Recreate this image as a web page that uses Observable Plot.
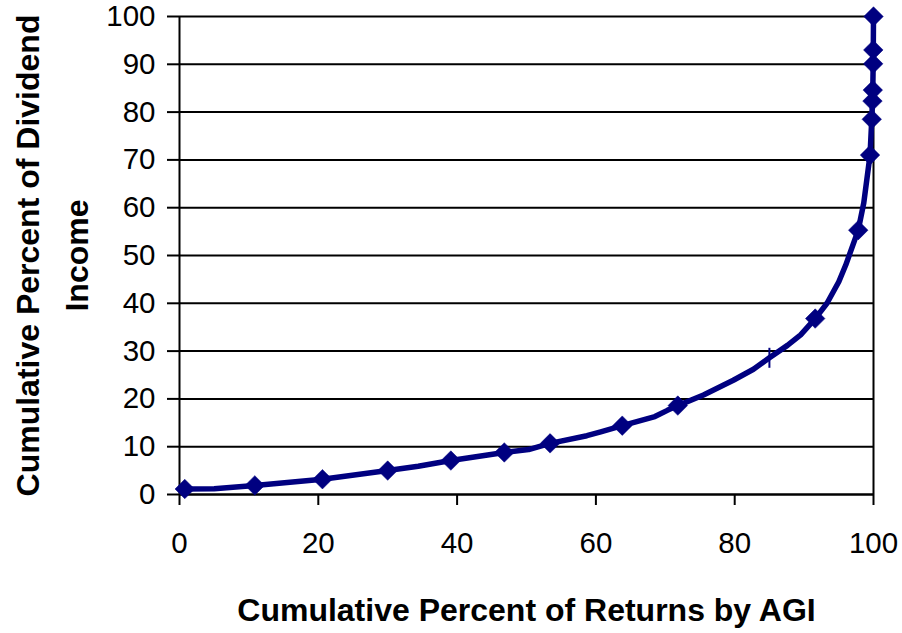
<!DOCTYPE html>
<html>
<head>
<meta charset="utf-8">
<script src="https://cdn.jsdelivr.net/npm/d3@7"></script>
<script src="https://cdn.jsdelivr.net/npm/@observablehq/plot@0.6"></script>
<style>
  html, body { margin: 0; padding: 0; background: #fff; }
  #chart { width: 902px; height: 633px; }
</style>
</head>
<body>
<div id="chart"></div>
<script>
// Cumulative percent of returns by AGI (x) and cumulative percent of dividend income (y)
const pctReturns  = [0.76, 5, 10.85, 20.6, 30, 34.4, 39.1, 46.8, 50.3, 53.4, 58.7, 60.7, 63.8, 68.5, 70.3, 71.8, 75.5, 79.8, 82.7, 85, 87.6, 89.5, 91.6, 93.3, 95, 96, 97.8, 98.6, 99.5, 99.75, 99.85, 99.9, 99.95, 99.97, 100];
const pctDividend = [1.15, 1.2, 1.9, 3.2, 5.0, 5.9, 7.1, 8.8, 9.4, 10.7, 12.3, 13.1, 14.4, 16.3, 17.6, 18.6, 20.8, 23.9, 26.2, 28.6, 31.2, 33.4, 36.8, 40, 44.5, 48, 55.3, 61, 71, 78.5, 82.3, 84.6, 90.1, 93, 100];
const markerKind  = ["diamond", "none", "diamond", "diamond", "diamond", "none", "diamond", "diamond", "none", "diamond", "none", "none", "diamond", "none", "none", "diamond", "none", "none", "none", "bar", "none", "none", "diamond", "none", "none", "none", "diamond", "none", "diamond", "diamond", "diamond", "diamond", "diamond", "diamond", "diamond"];

const xTicks = [0, 20, 40, 60, 80, 100];
const yTicks = [0, 10, 20, 30, 40, 50, 60, 70, 80, 90, 100];
const xTitle = "Cumulative Percent of Returns by AGI";
const yTitle = "Cumulative Percent of Dividend\nIncome";

const points = pctReturns.map((x, i) => ({x, y: pctDividend[i], kind: markerKind[i]}));
const diamonds = points.filter(d => d.kind === "diamond");
const bars = points.filter(d => d.kind === "bar");

const navy = "#000080";
const font = "'Liberation Sans', Arial, Helvetica, sans-serif";

// vertical-bar marker symbol (a "+" whose horizontal arm is hidden by the line)
const vbar = {draw(context, size) { const r = Math.sqrt(size / Math.PI); context.moveTo(0, -r); context.lineTo(0, r); }};

const chart = Plot.plot({
  width: 902,
  height: 633,
  marginLeft: 179,
  marginRight: 29,
  marginTop: 16,
  marginBottom: 139,
  style: {fontFamily: font, background: "#fff", color: "#000"},
  x: {domain: [0, 100]},
  y: {domain: [0, 100]},
  marks: [
    Plot.gridY(yTicks, {stroke: "#000", strokeOpacity: 1, strokeWidth: 2}),
    Plot.ruleX([0, 100], {stroke: "#000", strokeWidth: 2}),
    Plot.ruleY([0], {stroke: "#000", strokeWidth: 2}),
    Plot.axisX({ticks: xTicks, tickSize: 11, tickPadding: 27, fontSize: 29.5, strokeWidth: 2, label: null}),
    Plot.axisY({ticks: yTicks, tickSize: 12, tickPadding: 12, fontSize: 29.5, strokeWidth: 2, label: null}),
    Plot.line(points, {x: "x", y: "y", stroke: navy, strokeWidth: 5.5, strokeLinejoin: "round", strokeLinecap: "round"}),
    Plot.dot(diamonds, {x: "x", y: "y", symbol: "diamond2", r: 8.8, fill: navy, stroke: navy, strokeWidth: 0.5}),
    Plot.dot(bars, {x: "x", y: "y", symbol: vbar, r: 10, stroke: navy, strokeWidth: 2}),
    Plot.text([xTitle], {frameAnchor: "bottom", dy: 126, fontSize: 32, fontWeight: "bold", fill: "#000", textAnchor: "middle"}),
    Plot.text([yTitle], {frameAnchor: "left", dx: -132, rotate: -90, textAnchor: "middle", fontSize: 32, fontWeight: "bold", lineHeight: 1.53, fill: "#000"})
  ]
});
document.getElementById("chart").appendChild(chart);
</script>
</body>
</html>
